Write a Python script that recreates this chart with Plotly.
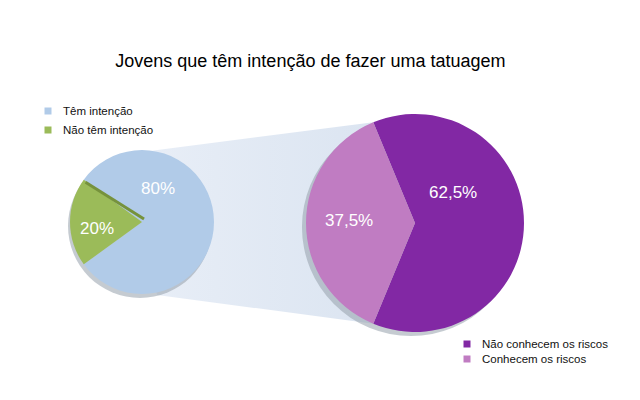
import math
import plotly.graph_objects as go

W, H = 640, 400

# ---- data ----
title_text = "Jovens que têm intenção de fazer uma tatuagem"
left_labels = ["Têm intenção", "Não têm intenção"]
left_values = [80, 20]
left_text = ["80%", "20%"]
right_labels = ["Não conhecem os riscos", "Conhecem os riscos"]
right_values = [62.5, 37.5]
right_text = ["62,5%", "37,5%"]

# ---- styles ----
left_colors = ["#b1cbe8", "#9bbb59"]
right_colors = ["#8228a4", "#c07cc2"]
band_left_col = "#e8eef7"
band_right_col = "#d9e3f0"
shadow_col = "rgba(150,160,172,0.55)"
FONT = "Liberation Sans, Arial, sans-serif"

# geometry (pixels)
Lc, Lr = (142, 222), 72
Rc, Rr = (415, 223), 109


def dom(c, r, dx=0, dy=0):
    cx, cy = c[0] + dx, c[1] + dy
    return dict(x=[(cx - r) / W, (cx + r) / W],
                y=[1 - (cy + r) / H, 1 - (cy - r) / H])


def pt(c, r, ang):
    a = math.radians(ang)
    return c[0] + r * math.cos(a), c[1] - r * math.sin(a)


fig = go.Figure()

# connecting band (drawn under the pies)
tl = (Lc[0], Lc[1] - Lr + 2)
bl = (Lc[0] + 15, Lc[1] + Lr + 1)
tr = pt(Rc, Rr, 112.5)
br = pt(Rc, Rr, 247.5)
bx = [tl[0], tr[0], Rc[0], br[0], bl[0], Lc[0], tl[0]]
by = [tl[1], tr[1], Rc[1], br[1], bl[1], Lc[1], tl[1]]
fig.add_trace(go.Scatter(
    x=bx, y=by, mode="lines", fill="toself", line=dict(width=0, color="rgba(0,0,0,0)"),
    fillgradient=dict(type="horizontal",
                      colorscale=[[0, band_left_col], [1, band_right_col]]),
    hoverinfo="skip", showlegend=False))

# shadows
fig.add_trace(go.Pie(values=[1], domain=dom(Lc, Lr, -2, 4), marker=dict(colors=[shadow_col]),
                     textinfo="none", hoverinfo="skip", showlegend=False, sort=False))
fig.add_trace(go.Pie(values=[1], domain=dom(Rc, Rr, -4, 4), marker=dict(colors=[shadow_col]),
                     textinfo="none", hoverinfo="skip", showlegend=False, sort=False))

# main pies
fig.add_trace(go.Pie(labels=left_labels, values=left_values, domain=dom(Lc, Lr),
                     marker=dict(colors=left_colors), sort=False, direction="clockwise",
                     rotation=-54, textinfo="none", showlegend=False))
fig.add_trace(go.Pie(labels=right_labels, values=right_values, domain=dom(Rc, Rr),
                     marker=dict(colors=right_colors), sort=False, direction="clockwise",
                     rotation=-22.5, textinfo="none", showlegend=False))

shapes = []
# darker edge stripe on the green slice
p0 = Lc
p1 = pt(Lc, Lr - 1, 144)
shapes.append(dict(type="line", xref="x", yref="y", x0=p0[0] + 2, y0=p0[1] - 3, x1=p1[0] + 1, y1=p1[1] + 2,
                   line=dict(color="#76923c", width=3), layer="above"))

annotations = []
# slice labels
for txt, (x, y) in zip(left_text, [(158, 188), (97, 228)]):
    annotations.append(dict(x=x, y=y, xref="x", yref="y", text=txt, showarrow=False,
                            font=dict(family=FONT, size=17, color="white")))
for txt, (x, y) in zip(right_text, [(453, 192), (349, 220)]):
    annotations.append(dict(x=x, y=y, xref="x", yref="y", text=txt, showarrow=False,
                            font=dict(family=FONT, size=17, color="white")))

# legends (manual)
def legend(items, colors, x, y0, dy):
    for i, (lab, col) in enumerate(zip(items, colors)):
        y = y0 + i * dy
        shapes.append(dict(type="rect", xref="x", yref="y", x0=x - 3.5, x1=x + 3.5,
                           y0=y - 3.5, y1=y + 3.5, fillcolor=col, line=dict(width=0),
                           layer="above"))
        annotations.append(dict(x=x + 13, y=y, xref="x", yref="y", text=lab,
                                showarrow=False, xanchor="left", yanchor="middle",
                                font=dict(family=FONT, size=11.5, color="#111")))

legend(left_labels, left_colors, 48, 111, 19)
legend(right_labels, right_colors, 467, 344, 15)

fig.update_layout(
    width=W, height=H,
    margin=dict(l=0, r=0, t=0, b=0),
    paper_bgcolor="white", plot_bgcolor="white",
    title=dict(text=title_text, x=0.485, xanchor="center", y=1 - 61 / H, yanchor="middle",
               font=dict(family=FONT, size=18, color="black")),
    xaxis=dict(range=[0, W], visible=False, fixedrange=True, domain=[0, 1]),
    yaxis=dict(range=[H, 0], visible=False, fixedrange=True, domain=[0, 1]),
    shapes=shapes, annotations=annotations, showlegend=False,
)

fig.write_html("out.html", config=dict(displayModeBar=False),
               post_script="document.body.style.margin='0';document.body.style.overflow='hidden';")
